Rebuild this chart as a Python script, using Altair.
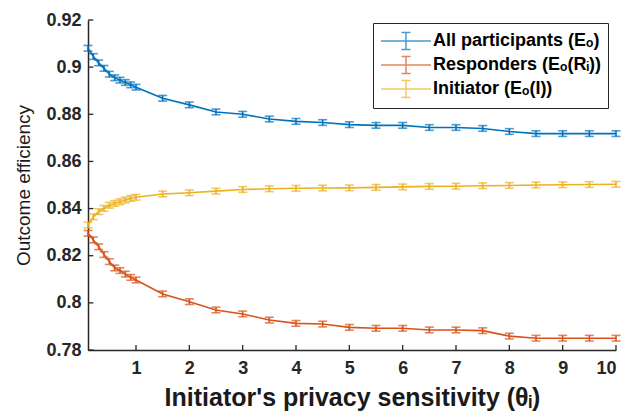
import altair as alt
import pandas as pd

# Initiator's privacy sensitivity values at which the outcome efficiency was measured
theta = [0.1, 0.2, 0.3, 0.4, 0.5, 0.6, 0.7, 0.8, 0.9, 1.0,
         1.5, 2.0, 2.5, 3.0, 3.5, 4.0, 4.5, 5.0, 5.5, 6.0,
         6.5, 7.0, 7.5, 8.0, 8.5, 9.0, 9.5, 10.0]

# Mean outcome efficiency per group
all_participants = [0.9080, 0.9045, 0.9018, 0.8995, 0.8970, 0.8955, 0.8945, 0.8935, 0.8925, 0.8915,
                    0.8868, 0.8840, 0.8810, 0.8800, 0.8780, 0.8770, 0.8765, 0.8756, 0.8753, 0.8753,
                    0.8744, 0.8744, 0.8740, 0.8727, 0.8718, 0.8718, 0.8718, 0.8718]
responders = [0.8295, 0.8267, 0.8238, 0.8205, 0.8175, 0.8148, 0.8137, 0.8122, 0.8108, 0.8097,
              0.8038, 0.8005, 0.7970, 0.7953, 0.7927, 0.7913, 0.7910, 0.7896, 0.7892, 0.7892,
              0.7885, 0.7885, 0.7882, 0.7859, 0.7850, 0.7850, 0.7850, 0.7850]
initiator = [0.8330, 0.8365, 0.8387, 0.8401, 0.8414, 0.8422, 0.8429, 0.8436, 0.8443, 0.8448,
             0.8462, 0.8467, 0.8474, 0.8481, 0.8484, 0.8486, 0.8487, 0.8488, 0.8490, 0.8492,
             0.8494, 0.8495, 0.8497, 0.8498, 0.8500, 0.8501, 0.8502, 0.8503]

# Half-width of the error bars for each group
err_all = 0.0012
err_responders = 0.0012
err_initiator = 0.0012

series_names = ["All participants (Eₒ)", "Responders (Eₒ(Rᵢ))", "Initiator (Eₒ(I))"]
series_colors = ["#0072BD", "#D95319", "#EDB120"]

x_ticks = [1, 2, 3, 4, 5, 6, 7, 8, 9, 10]
y_ticks = [0.78, 0.80, 0.82, 0.84, 0.86, 0.88, 0.90, 0.92]

rows = []
for name, vals, err in zip(series_names,
                           [all_participants, responders, initiator],
                           [err_all, err_responders, err_initiator]):
    for t, v in zip(theta, vals):
        rows.append({"series": name, "theta": t, "value": v, "lo": v - err, "hi": v + err})
df = pd.DataFrame(rows)

FONT = "Liberation Sans"
INK = "#262626"

x_scale = alt.Scale(domain=[0.1, 10], nice=False, zero=False)
y_scale = alt.Scale(domain=[0.78, 0.92], nice=False, zero=False)

x_axis = alt.Axis(values=x_ticks, title="Initiator's privacy sensitivity (θᵢ)",
                  labelPadding=9, titlePadding=8)
y_axis = alt.Axis(values=y_ticks, format="~g", title="Outcome efficiency",
                  labelPadding=7, titlePadding=12, titleFontWeight="normal",
                  titleFontSize=19)

# Legend glyph: a horizontal line crossed by a capped error bar
errbar_path = "M-2.5,0H2.5M0,-0.85V0.85M-0.45,-0.85H0.45M-0.45,0.85H0.45"
legend = alt.Legend(
    title=None, orient="none", legendX=285, legendY=3,
    fillColor="white", strokeColor=INK, padding=7, rowPadding=0,
    symbolType=errbar_path, symbolSize=400, symbolStrokeWidth=1.5,
    symbolOffset=15, symbolFillColor="transparent", labelOffset=16,
    labelFont=FONT, labelFontSize=18, labelFontWeight="bold",
    labelColor="black", labelLimit=0,
)

color = alt.Color("series:N", scale=alt.Scale(domain=series_names, range=series_colors),
                  legend=legend)

lines = alt.Chart(df).mark_line(strokeWidth=1.6).encode(
    x=alt.X("theta:Q", scale=x_scale, axis=x_axis),
    y=alt.Y("value:Q", scale=y_scale, axis=y_axis),
    color=color,
)

bars = alt.Chart(df).mark_errorbar(ticks=True, size=9, thickness=1.6).encode(
    x=alt.X("theta:Q", scale=x_scale, axis=x_axis),
    y=alt.Y("lo:Q", scale=y_scale, axis=y_axis),
    y2="hi:Q",
    color=color,
)

# Inward-pointing tick marks along both axes
x_tick_marks = alt.Chart(pd.DataFrame({"t": x_ticks})).mark_rule(
    color=INK, strokeWidth=1.3
).encode(x="t:Q", y=alt.datum(0.78), y2=alt.datum(0.7821))

y_tick_marks = alt.Chart(pd.DataFrame({"t": y_ticks})).mark_rule(
    color=INK, strokeWidth=1.3
).encode(y="t:Q", x=alt.datum(0.1), x2=alt.datum(0.2))

chart = alt.layer(lines, bars, x_tick_marks, y_tick_marks).properties(
    width=528, height=330,
    autosize=alt.AutoSizeParams(type="none"),
    padding={"left": 88, "top": 20, "right": 28, "bottom": 63},
).configure_view(stroke=None).configure_axis(
    grid=False, ticks=False,
    domainColor=INK, domainWidth=1.5,
    labelFont=FONT, labelFontSize=18, labelFontWeight="bold", labelColor=INK,
    titleFont=FONT, titleFontSize=25, titleFontWeight="bold", titleColor="#1a1a1a",
)

chart.save("out.html", embed_options={"renderer": "svg", "actions": False})
